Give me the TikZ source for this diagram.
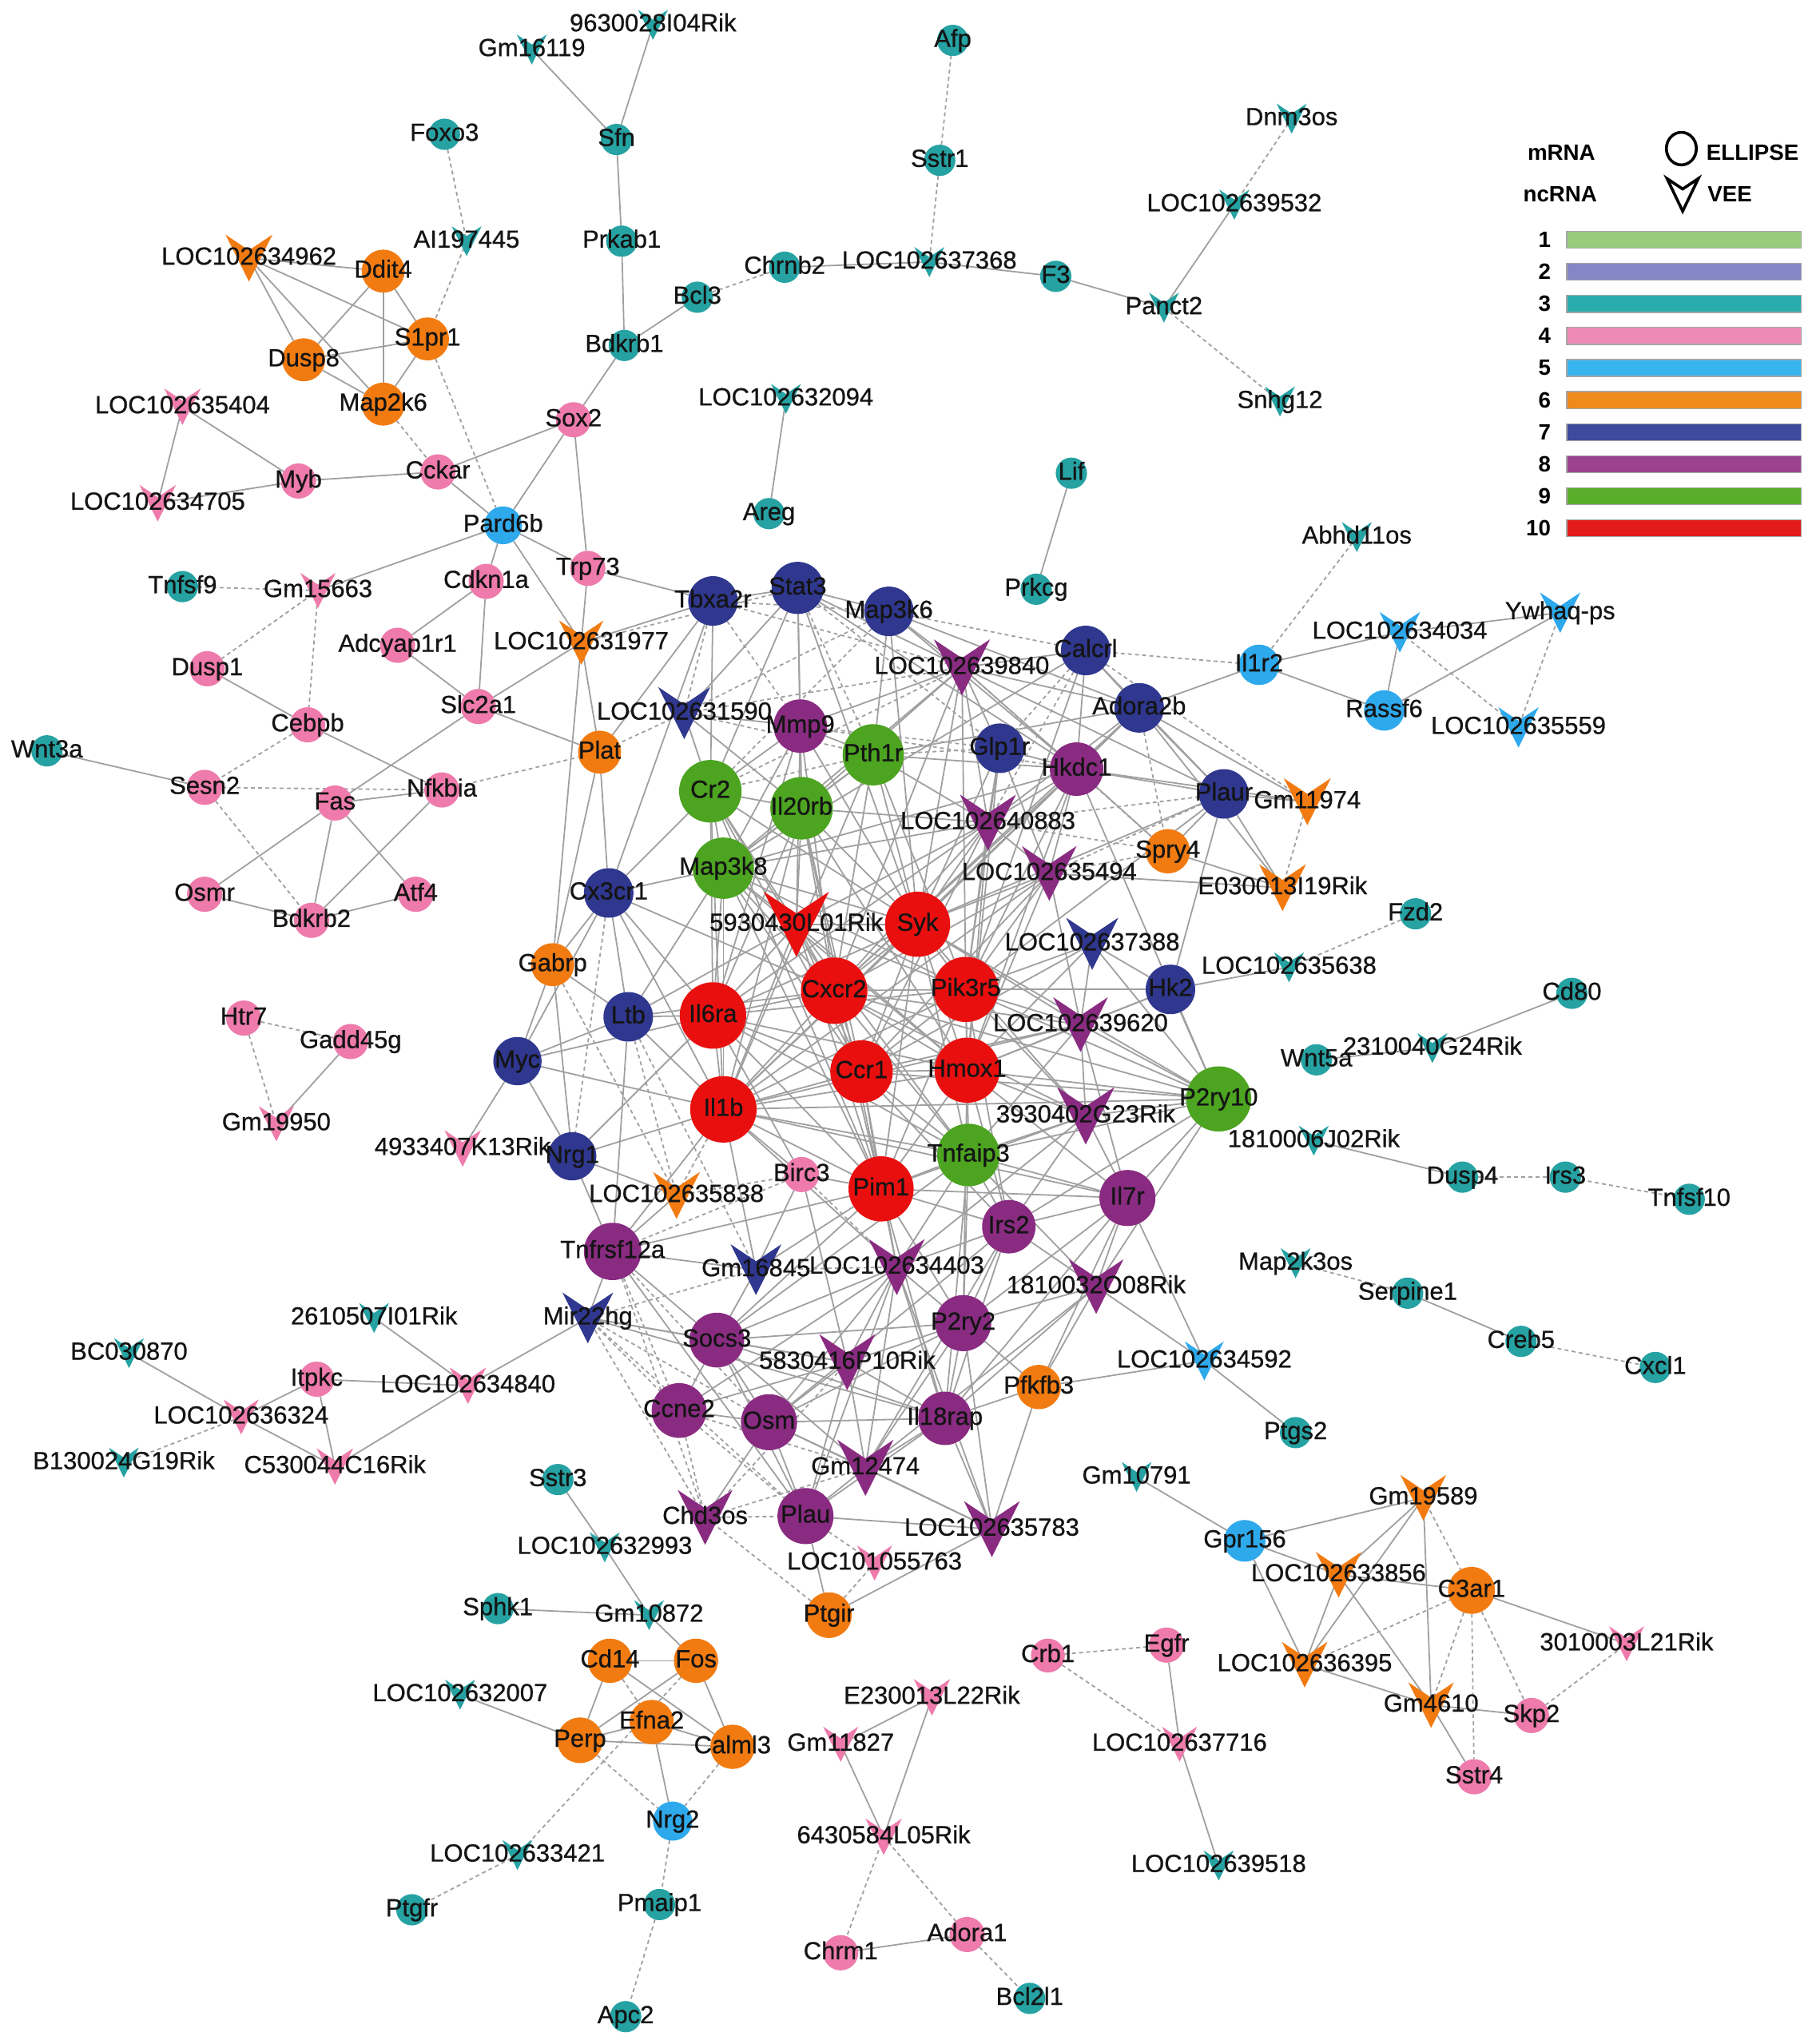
\documentclass[tikz,border=0pt]{standalone}
\usepackage{fontspec}
\setmainfont{Liberation Sans}
\newfontfamily\lblf{Liberation Sans}[FakeBold=0.7]
\pgfdeclarelayer{edges}
\pgfdeclarelayer{labels}
\pgfsetlayers{edges,main,labels}
\definecolor{cT}{HTML}{26A2A3}
\definecolor{cP}{HTML}{EE7BAC}
\definecolor{cS}{HTML}{2EA9EC}
\definecolor{cO}{HTML}{F27B11}
\definecolor{cB}{HTML}{2F378F}
\definecolor{cU}{HTML}{8A2B82}
\definecolor{cG}{HTML}{4CA420}
\definecolor{cR}{HTML}{EA0F0F}
\definecolor{eg}{HTML}{A0A0A0}
\definecolor{L1}{HTML}{97CC7D}
\definecolor{L2}{HTML}{8486C6}
\definecolor{L3}{HTML}{2AABAC}
\definecolor{L4}{HTML}{EE8AB6}
\definecolor{L5}{HTML}{38B5EE}
\definecolor{L6}{HTML}{EF8A1C}
\definecolor{L7}{HTML}{3E4A9C}
\definecolor{L8}{HTML}{9C4390}
\definecolor{L9}{HTML}{58AE2A}
\definecolor{L10}{HTML}{E31B1B}
\tikzset{
  se/.style={draw=eg, line width=1.1pt},
  de/.style={draw=eg, line width=1.1pt, dash pattern=on 3pt off 2.5pt},
  lbl/.style={font=\lblf\fontsize{19}{19}\selectfont, text=black!92, inner sep=0pt, text height=13pt, text depth=3pt},
  cn/.style={circle, inner sep=0pt, outer sep=0pt},
  leg/.style={font=\bfseries\fontsize{17}{17}\selectfont, inner sep=0pt}
}
\newcommand\mkC[6]{\node[cn, fill=#4, minimum size=#5pt] (#1) at (#2,#3) {};
  \begin{pgfonlayer}{labels}\node[lbl] (#1t) at (#2,#3) {#6};\end{pgfonlayer}}
\newcommand\mkV[6]{\coordinate (#1) at (#2,#3);
  \fill[#4, shift={(#2,#3)}] ({-#5/2},{-#5/2}) -- (0,{-#5/6}) -- ({#5/2},{-#5/2}) -- (0,{#5/2}) -- cycle;
  \begin{pgfonlayer}{labels}\node[lbl] (#1t) at (#2,#3) {#6};\end{pgfonlayer}}
\begin{document}
\begin{tikzpicture}[x=1pt,y=-1pt]
\useasboundingbox (0,0) rectangle (1390,1568);
% ---------- teal circles
\mkC{Foxo3}{341}{103}{cT}{24}{Foxo3}
\mkC{Sfn}{473}{107}{cT}{24}{Sfn}
\mkC{Prkab1}{477}{185}{cT}{24}{Prkab1}
\mkC{Bdkrb1}{479}{265}{cT}{24}{Bdkrb1}
\mkC{Bcl3}{535}{228}{cT}{24}{Bcl3}
\mkC{Chrnb2}{602}{205}{cT}{24}{Chrnb2}
\mkC{Afp}{731}{31}{cT}{24}{Afp}
\mkC{Sstr1}{721}{123}{cT}{24}{Sstr1}
\mkC{F3}{810}{212}{cT}{24}{F3}
\mkC{Areg}{590}{394}{cT}{24}{Areg}
\mkC{Lif}{822}{363}{cT}{24}{Lif}
\mkC{Prkcg}{795}{452}{cT}{24}{Prkcg}
\mkC{Tnfsf9}{140}{450}{cT}{24}{Tnfsf9}
\mkC{Wnt3a}{36}{576}{cT}{24}{Wnt3a}
\mkC{Fzd2}{1086}{701}{cT}{24}{Fzd2}
\mkC{Cd80}{1206}{762}{cT}{24}{Cd80}
\mkC{Wnt5a}{1010}{813}{cT}{24}{Wnt5a}
\mkC{Dusp4}{1122}{903}{cT}{24}{Dusp4}
\mkC{Irs3}{1201}{903}{cT}{24}{Irs3}
\mkC{Tnfsf10}{1296}{920}{cT}{24}{Tnfsf10}
\mkC{Serpine1}{1080}{992}{cT}{24}{Serpine1}
\mkC{Creb5}{1167}{1029}{cT}{24}{Creb5}
\mkC{Cxcl1}{1270}{1049}{cT}{24}{Cxcl1}
\mkC{Ptgs2}{994}{1099}{cT}{24}{Ptgs2}
\mkC{Sstr3}{428}{1135}{cT}{24}{Sstr3}
\mkC{Sphk1}{382}{1234}{cT}{24}{Sphk1}
\mkC{Ptgfr}{316}{1465}{cT}{24}{Ptgfr}
\mkC{Pmaip1}{506}{1461}{cT}{24}{Pmaip1}
\mkC{Apc2}{480}{1547}{cT}{24}{Apc2}
\mkC{Bcl2l1}{790}{1533}{cT}{24}{Bcl2l1}
% ---------- teal vees
\mkV{Gm16119}{408}{38}{cT}{23}{Gm16119}
\mkV{9630028I04Rik}{501}{19}{cT}{23}{9630028I04Rik}
\mkV{AI197445}{358}{185}{cT}{23}{AI197445}
\mkV{LOC102637368}{713}{201}{cT}{23}{LOC102637368}
\mkV{Panct2}{893}{236}{cT}{23}{Panct2}
\mkV{LOC102639532}{947}{157}{cT}{23}{LOC102639532}
\mkV{Dnm3os}{991}{91}{cT}{23}{Dnm3os}
\mkV{Snhg12}{982}{308}{cT}{23}{Snhg12}
\mkV{LOC102632094}{603}{306}{cT}{23}{LOC102632094}
\mkV{Abhd11os}{1041}{412}{cT}{23}{Abhd11os}
\mkV{LOC102635638}{989}{742}{cT}{23}{LOC102635638}
\mkV{2310040G24Rik}{1099}{804}{cT}{23}{2310040G24Rik}
\mkV{1810006J02Rik}{1008}{875}{cT}{23}{1810006J02Rik}
\mkV{Map2k3os}{994}{969}{cT}{23}{Map2k3os}
\mkV{Gm10791}{872}{1133}{cT}{23}{Gm10791}
\mkV{LOC102639518}{935}{1431}{cT}{23}{LOC102639518}
\mkV{2610507I01Rik}{287}{1011}{cT}{23}{2610507I01Rik}
\mkV{BC030870}{99}{1038}{cT}{23}{BC030870}
\mkV{B130024G19Rik}{95}{1122}{cT}{23}{B130024G19Rik}
\mkV{LOC102632993}{464}{1187}{cT}{23}{LOC102632993}
\mkV{Gm10872}{498}{1239}{cT}{23}{Gm10872}
\mkV{LOC102632007}{353}{1300}{cT}{23}{LOC102632007}
\mkV{LOC102633421}{397}{1423}{cT}{23}{LOC102633421}
% ---------- pink circles
\mkC{Myb}{229}{369}{cP}{27}{Myb}
\mkC{Cckar}{336}{362}{cP}{27}{Cckar}
\mkC{Sox2}{440}{322}{cP}{27}{Sox2}
\mkC{Cdkn1a}{373}{446}{cP}{27}{Cdkn1a}
\mkC{Trp73}{451}{436}{cP}{27}{Trp73}
\mkC{Adcyap1r1}{305}{495}{cP}{27}{Adcyap1r1}
\mkC{Dusp1}{159}{513}{cP}{27}{Dusp1}
\mkC{Cebpb}{236}{556}{cP}{27}{Cebpb}
\mkC{Slc2a1}{367}{542}{cP}{27}{Slc2a1}
\mkC{Sesn2}{157}{604}{cP}{27}{Sesn2}
\mkC{Fas}{257}{616}{cP}{27}{Fas}
\mkC{Nfkbia}{339}{606}{cP}{27}{Nfkbia}
\mkC{Osmr}{157}{686}{cP}{27}{Osmr}
\mkC{Bdkrb2}{239}{706}{cP}{27}{Bdkrb2}
\mkC{Atf4}{319}{686}{cP}{27}{Atf4}
\mkC{Htr7}{187}{781}{cP}{27}{Htr7}
\mkC{Gadd45g}{269}{799}{cP}{27}{Gadd45g}
\mkC{Birc3}{615}{901}{cP}{27}{Birc3}
\mkC{Itpkc}{243}{1058}{cP}{27}{Itpkc}
\mkC{Crb1}{804}{1270}{cP}{26}{Crb1}
\mkC{Egfr}{895}{1262}{cP}{27}{Egfr}
\mkC{Skp2}{1175}{1316}{cP}{27}{Skp2}
\mkC{Sstr4}{1131}{1363}{cP}{27}{Sstr4}
\mkC{Chrm1}{645}{1498}{cP}{27}{Chrm1}
\mkC{Adora1}{742}{1484}{cP}{27}{Adora1}
% ---------- pink vees
\mkV{LOC102635404}{140}{312}{cP}{28}{LOC102635404}
\mkV{LOC102634705}{121}{386}{cP}{28}{LOC102634705}
\mkV{Gm15663}{244}{453}{cP}{27}{Gm15663}
\mkV{Gm19950}{212}{862}{cP}{27}{Gm19950}
\mkV{4933407K13Rik}{355}{881}{cP}{28}{4933407K13Rik}
\mkV{LOC102634840}{359}{1063}{cP}{28}{LOC102634840}
\mkV{LOC102636324}{185}{1087}{cP}{27}{LOC102636324}
\mkV{C530044C16Rik}{257}{1125}{cP}{28}{C530044C16Rik}
\mkV{LOC101055763}{671}{1199}{cP}{27}{LOC101055763}
\mkV{E230013L22Rik}{715}{1302}{cP}{28}{E230013L22Rik}
\mkV{Gm11827}{645}{1338}{cP}{27}{Gm11827}
\mkV{6430584L05Rik}{678}{1409}{cP}{28}{6430584L05Rik}
\mkV{LOC102637716}{905}{1338}{cP}{27}{LOC102637716}
\mkV{3010003L21Rik}{1248}{1261}{cP}{27}{3010003L21Rik}
% ---------- sky
\mkC{Pard6b}{386}{403}{cS}{29}{Pard6b}
\mkC{Il1r2}{966}{510}{cS}{31}{Il1r2}
\mkC{Rassf6}{1062}{545}{cS}{31}{Rassf6}
\mkC{Gpr156}{955}{1182}{cS}{32}{Gpr156}
\mkC{Nrg2}{516}{1397}{cS}{30}{Nrg2}
\mkV{LOC102634034}{1074}{485}{cS}{31}{LOC102634034}
\mkV{Ywhaqps}{1197}{470}{cS}{31}{Ywhaq-ps}
\mkV{LOC102635559}{1165}{558}{cS}{31}{LOC102635559}
\mkV{LOC102634592}{924}{1044}{cS}{30}{LOC102634592}
% ---------- orange
\mkC{Ddit4}{294}{208}{cO}{33}{Ddit4}
\mkC{S1pr1}{328}{260}{cO}{33}{S1pr1}
\mkC{Dusp8}{233}{276}{cO}{33}{Dusp8}
\mkC{Map2k6}{294}{310}{cO}{33}{Map2k6}
\mkC{Plat}{460}{577}{cO}{33}{Plat}
\mkC{Gabrp}{424}{740}{cO}{33}{Gabrp}
\mkC{Spry4}{896}{653}{cO}{34}{Spry4}
\mkC{Pfkfb3}{797}{1064}{cO}{34}{Pfkfb3}
\mkC{Ptgir}{636}{1239}{cO}{35}{Ptgir}
\mkC{C3ar1}{1129}{1220}{cO}{36}{C3ar1}
\mkC{Cd14}{468}{1274}{cO}{34}{Cd14}
\mkC{Fos}{534}{1274}{cO}{34}{Fos}
\mkC{Perp}{445}{1335}{cO}{35}{Perp}
\mkC{Efna2}{500}{1321}{cO}{34}{Efna2}
\mkC{Calml3}{562}{1340}{cO}{34}{Calml3}
\mkV{LOC102634962}{191}{198}{cO}{36}{LOC102634962}
\mkV{LOC102631977}{446}{493}{cO}{34}{LOC102631977}
\mkV{Gm11974}{1003}{615}{cO}{36}{Gm11974}
\mkV{E030013I19Rik}{984}{681}{cO}{36}{E030013I19Rik}
\mkV{LOC102635838}{519}{917}{cO}{36}{LOC102635838}
\mkV{Gm19589}{1092}{1149}{cO}{35}{Gm19589}
\mkV{LOC102633856}{1027}{1208}{cO}{35}{LOC102633856}
\mkV{LOC102636395}{1001}{1277}{cO}{35}{LOC102636395}
\mkV{Gm4610}{1098}{1308}{cO}{35}{Gm4610}
% ---------- dark blue
\mkC{Tbxa2r}{547}{461}{cB}{38}{Tbxa2r}
\mkC{Stat3}{612}{451}{cB}{40}{Stat3}
\mkC{Map3k6}{682}{469}{cB}{38}{Map3k6}
\mkC{Calcrl}{833}{499}{cB}{38}{Calcrl}
\mkC{Adora2b}{874}{543}{cB}{38}{Adora2b}
\mkC{Glp1r}{767}{574}{cB}{38}{Glp1r}
\mkC{Plaur}{939}{609}{cB}{38}{Plaur}
\mkC{Cx3cr1}{467}{685}{cB}{38}{Cx3cr1}
\mkC{Hk2}{898}{759}{cB}{38}{Hk2}
\mkC{Ltb}{482}{780}{cB}{38}{Ltb}
\mkC{Myc}{397}{814}{cB}{37}{Myc}
\mkC{Nrg1}{439}{887}{cB}{37}{Nrg1}
\mkV{LOC102631590}{525}{547}{cB}{40}{LOC102631590}
\mkV{LOC102637388}{838}{724}{cB}{40}{LOC102637388}
\mkV{Gm16845}{580}{974}{cB}{39}{Gm16845}
\mkV{Mir22hg}{451}{1011}{cB}{39}{Mir22hg}
% ---------- purple
\mkC{Mmp9}{614}{557}{cU}{41}{Mmp9}
\mkC{Hkdc1}{826}{590}{cU}{41}{Hkdc1}
\mkC{Il7r}{865}{919}{cU}{43}{Il7r}
\mkC{Irs2}{774}{941}{cU}{41}{Irs2}
\mkC{Tnfrsf12a}{470}{960}{cU}{44}{Tnfrsf12a}
\mkC{Socs3}{550}{1028}{cU}{42}{Socs3}
\mkC{P2ry2}{739}{1015}{cU}{43}{P2ry2}
\mkC{Ccne2}{521}{1082}{cU}{42}{Ccne2}
\mkC{Osm}{590}{1091}{cU}{43}{Osm}
\mkC{Il18rap}{725}{1088}{cU}{41}{Il18rap}
\mkC{Plau}{618}{1163}{cU}{43}{Plau}
\mkV{LOC102639840}{738}{512}{cU}{43}{LOC102639840}
\mkV{LOC102640883}{758}{631}{cU}{43}{LOC102640883}
\mkV{LOC102635494}{805}{670}{cU}{42}{LOC102635494}
\mkV{LOC102639620}{829}{786}{cU}{42}{LOC102639620}
\mkV{3930402G23Rik}{833}{856}{cU}{44}{3930402G23Rik}
\mkV{LOC102634403}{688}{972}{cU}{43}{LOC102634403}
\mkV{1810032O08Rik}{841}{987}{cU}{42}{1810032O08Rik}
\mkV{5830416P10Rik}{650}{1045}{cU}{43}{5830416P10Rik}
\mkV{Gm12474}{664}{1126}{cU}{43}{Gm12474}
\mkV{Chd3os}{541}{1164}{cU}{42}{Chd3os}
\mkV{LOC102635783}{761}{1173}{cU}{43}{LOC102635783}
% ---------- green
\mkC{Pth1r}{670}{579}{cG}{47}{Pth1r}
\mkC{Cr2}{545}{607}{cG}{48}{Cr2}
\mkC{Il20rb}{615}{620}{cG}{48}{Il20rb}
\mkC{Map3k8}{555}{666}{cG}{47}{Map3k8}
\mkC{Tnfaip3}{743}{886}{cG}{48}{Tnfaip3}
\mkC{P2ry10}{935}{843}{cG}{50}{P2ry10}
% ---------- red
\mkC{Syk}{704}{709}{cR}{50}{Syk}
\mkC{Il6ra}{547}{779}{cR}{51}{Il6ra}
\mkC{Cxcr2}{640}{760}{cR}{51}{Cxcr2}
\mkC{Pik3r5}{741}{759}{cR}{50}{Pik3r5}
\mkC{Ccr1}{661}{822}{cR}{48}{Ccr1}
\mkC{Hmox1}{742}{821}{cR}{50}{Hmox1}
\mkC{Il1b}{555}{851}{cR}{51}{Il1b}
\mkC{Pim1}{676}{912}{cR}{50}{Pim1}
\mkV{5930430L01Rik}{611}{709}{cR}{50}{5930430L01Rik}
% ---------- edges
\begin{pgfonlayer}{edges}
\fill[white] (0,0) rectangle (1390,1568);
\foreach \a/\b in {Gm16119/Sfn, 9630028I04Rik/Sfn, Sfn/Prkab1, Prkab1/Bdkrb1, Bdkrb1/Bcl3, Bdkrb1/Sox2,
 Chrnb2/LOC102637368, LOC102637368/F3, F3/Panct2, Panct2/LOC102639532, LOC102632094/Areg, Lif/Prkcg,
 LOC102634962/Ddit4, LOC102634962/Dusp8, LOC102634962/S1pr1, LOC102634962/Map2k6, Ddit4/S1pr1, Ddit4/Dusp8,
 Ddit4/Map2k6, Dusp8/S1pr1, Dusp8/Map2k6, S1pr1/Map2k6,
 LOC102635404/LOC102634705, LOC102635404/Myb, Myb/LOC102634705, Myb/Cckar, Cckar/Sox2, Cckar/Pard6b,
 Sox2/Pard6b, Sox2/Trp73, Pard6b/Gm15663, Pard6b/Cdkn1a, Pard6b/Trp73, Pard6b/LOC102631977,
 Cdkn1a/Adcyap1r1, Cdkn1a/Slc2a1, Adcyap1r1/Slc2a1, Slc2a1/LOC102631977, Slc2a1/Plat, Slc2a1/Fas,
 Dusp1/Cebpb, Cebpb/Nfkbia, Wnt3a/Sesn2, Fas/Nfkbia, Fas/Osmr, Fas/Bdkrb2, Fas/Atf4, Nfkbia/Bdkrb2,
 Osmr/Bdkrb2, Bdkrb2/Atf4, Trp73/LOC102631977, Trp73/Tbxa2r, LOC102631977/Gabrp, LOC102631977/Plat,
 LOC102631977/Tbxa2r, Gadd45g/Gm19950, Myc/4933407K13Rik,
 Il1r2/LOC102634034, Il1r2/Rassf6, LOC102634034/Ywhaqps, LOC102634034/Rassf6, Ywhaqps/Rassf6,
 Il1r2/Adora2b, Adora2b/Gm11974, LOC102635638/Hk2, Cd80/2310040G24Rik, Wnt5a/2310040G24Rik,
 1810006J02Rik/Dusp4, Serpine1/Creb5, LOC102634592/Ptgs2, Pfkfb3/LOC102634592, Il7r/LOC102634592,
 1810032O08Rik/LOC102634592,
 Gm10791/Gpr156, Gpr156/Gm19589, Gpr156/LOC102633856, Gpr156/LOC102636395, Gm19589/LOC102633856,
 Gm19589/LOC102636395, Gm19589/Gm4610, LOC102633856/LOC102636395, LOC102633856/Gm4610,
 LOC102633856/C3ar1, LOC102636395/Gm4610, C3ar1/3010003L21Rik, Gm4610/Skp2, Gm4610/Sstr4,
 Egfr/LOC102637716, LOC102637716/LOC102639518,
 2610507I01Rik/LOC102634840, Mir22hg/LOC102634840, Itpkc/LOC102634840, Itpkc/LOC102636324,
 Itpkc/C530044C16Rik, BC030870/LOC102636324, LOC102636324/C530044C16Rik, LOC102634840/C530044C16Rik,
 Sstr3/LOC102632993, LOC102632993/Gm10872, Sphk1/Gm10872, Gm10872/Fos, Cd14/Fos, Cd14/Perp,
 Cd14/Calml3, Fos/Perp, Fos/Calml3, Perp/Efna2, Perp/Calml3, Efna2/Calml3, Efna2/Nrg2, LOC102632007/Perp,
 E230013L22Rik/Gm11827, E230013L22Rik/6430584L05Rik, Gm11827/6430584L05Rik, Chrm1/Adora1,
 Ptgir/Plau, Ptgir/LOC102635783, Plau/LOC102635783}
 \draw[se] (\a) -- (\b);
% center solid
\foreach \a/\b in {Tbxa2r/Stat3, Tbxa2r/Cx3cr1, Tbxa2r/Cr2, Tbxa2r/Plat,
 Stat3/Map3k6, Stat3/Mmp9, Stat3/LOC102631590, Stat3/Cr2, Stat3/Syk, Stat3/Hkdc1, Stat3/Il20rb, Stat3/LOC102639840,
 Map3k6/LOC102639840, Map3k6/Hkdc1, Map3k6/Pth1r, Map3k6/Syk, Map3k6/Adora2b,
 LOC102639840/Calcrl, LOC102639840/Adora2b, LOC102639840/Glp1r, LOC102639840/Hkdc1, LOC102639840/LOC102640883,
 LOC102639840/Mmp9, LOC102639840/Il20rb, LOC102639840/Syk, LOC102639840/Pik3r5, LOC102639840/Plaur,
 LOC102639840/Map3k8, LOC102639840/Cxcr2,
 Calcrl/Adora2b, Calcrl/Hkdc1, Calcrl/Plaur, Calcrl/Map3k8, Calcrl/Pik3r5,
 Adora2b/Hkdc1, Adora2b/Plaur, Adora2b/LOC102640883, Adora2b/Pth1r, Adora2b/Cxcr2, Adora2b/E030013I19Rik, Adora2b/Syk,
 LOC102631590/Mmp9, LOC102631590/Cr2, LOC102631590/Il20rb,
 Mmp9/Pth1r, Mmp9/Cr2, Mmp9/Il20rb, Mmp9/Map3k8, Mmp9/5930430L01Rik, Mmp9/Syk, Mmp9/Cxcr2, Mmp9/Il6ra,
 Pth1r/Il20rb, Pth1r/Hkdc1, Pth1r/Syk, Pth1r/Cxcr2, Pth1r/LOC102640883, Pth1r/Map3k8, Pth1r/Il1b, Pth1r/Pik3r5,
 Glp1r/Hkdc1, Glp1r/LOC102640883, Glp1r/LOC102635494, Glp1r/Pik3r5, Glp1r/Syk, Glp1r/Hmox1,
 Hkdc1/Plaur, Hkdc1/LOC102640883, Hkdc1/LOC102635494, Hkdc1/Spry4, Hkdc1/Syk, Hkdc1/Pik3r5, Hkdc1/Cxcr2,
 Hkdc1/Map3k8, Hkdc1/Il1b, Hkdc1/Hmox1, Hkdc1/P2ry10, Hkdc1/Gm11974,
 Plaur/Gm11974, Plaur/E030013I19Rik, Plaur/Spry4, Plaur/Hk2, Plaur/Syk, Plaur/Pik3r5,
 Cr2/Il20rb, Cr2/Map3k8, Cr2/Cx3cr1, Cr2/5930430L01Rik, Cr2/Il6ra, Cr2/Cxcr2, Cr2/Syk, Cr2/Il1b, Cr2/Ccr1, Cr2/Pim1,
 Il20rb/Map3k8, Il20rb/5930430L01Rik, Il20rb/Syk, Il20rb/Cxcr2, Il20rb/Il6ra, Il20rb/Ccr1, Il20rb/Pim1,
 Il20rb/Hmox1, Il20rb/Il1b, Il20rb/LOC102640883,
 LOC102640883/Syk, LOC102640883/Pik3r5, LOC102640883/LOC102635494, LOC102640883/Map3k8, LOC102640883/Cxcr2,
 LOC102640883/Il6ra, LOC102640883/Ccr1, LOC102640883/Hmox1, LOC102640883/5930430L01Rik,
 LOC102635494/Syk, LOC102635494/Pik3r5, LOC102635494/LOC102639620, LOC102635494/Hmox1, LOC102635494/Ccr1,
 LOC102635494/Cxcr2, LOC102635494/Il1b, LOC102635494/E030013I19Rik, Spry4/E030013I19Rik,
 Map3k8/Cx3cr1, Map3k8/5930430L01Rik, Map3k8/Il6ra, Map3k8/Cxcr2, Map3k8/Syk, Map3k8/Ccr1, Map3k8/Il1b,
 Map3k8/Pim1, Map3k8/Ltb, Map3k8/Hmox1, Map3k8/Pik3r5,
 Cx3cr1/Ltb, Cx3cr1/Il6ra, Cx3cr1/Myc, Cx3cr1/Gabrp, Cx3cr1/Il1b, Cx3cr1/Cxcr2, Cx3cr1/Plat,
 5930430L01Rik/Syk, 5930430L01Rik/Cxcr2, 5930430L01Rik/Pik3r5, 5930430L01Rik/Il6ra, 5930430L01Rik/Ccr1,
 5930430L01Rik/Hmox1, 5930430L01Rik/Il1b, 5930430L01Rik/Pim1, 5930430L01Rik/Ltb, 5930430L01Rik/Tnfaip3,
 Syk/Cxcr2, Syk/Pik3r5, Syk/Il6ra, Syk/Ccr1, Syk/Hmox1, Syk/Il1b, Syk/Pim1, Syk/LOC102639620, Syk/Tnfaip3,
 Syk/P2ry10, Syk/3930402G23Rik,
 LOC102637388/Pik3r5, LOC102637388/Hk2, LOC102637388/LOC102639620, LOC102637388/Ccr1, LOC102637388/Hmox1,
 LOC102637388/P2ry10, Hk2/LOC102639620, Hk2/Pik3r5, Hk2/P2ry10, Hk2/Hmox1,
 Ltb/Il6ra, Ltb/Myc, Ltb/Il1b, Ltb/Gabrp, Ltb/Tnfrsf12a, Ltb/Cxcr2,
 Il6ra/Cxcr2, Il6ra/Pik3r5, Il6ra/Ccr1, Il6ra/Hmox1, Il6ra/Il1b, Il6ra/Pim1, Il6ra/Myc, Il6ra/Nrg1,
 Il6ra/Tnfaip3, Il6ra/Birc3,
 Cxcr2/Pik3r5, Cxcr2/Ccr1, Cxcr2/Hmox1, Cxcr2/Il1b, Cxcr2/Pim1, Cxcr2/Tnfaip3, Cxcr2/P2ry10,
 Cxcr2/LOC102639620, Cxcr2/3930402G23Rik,
 Pik3r5/Ccr1, Pik3r5/Hmox1, Pik3r5/Il1b, Pik3r5/Pim1, Pik3r5/LOC102639620, Pik3r5/P2ry10, Pik3r5/Tnfaip3,
 Pik3r5/3930402G23Rik, Pik3r5/Irs2,
 LOC102639620/Hmox1, LOC102639620/P2ry10, LOC102639620/3930402G23Rik, LOC102639620/Tnfaip3,
 LOC102639620/Il7r, LOC102639620/Ccr1, LOC102639620/Il1b,
 Ccr1/Hmox1, Ccr1/Il1b, Ccr1/Pim1, Ccr1/Tnfaip3, Ccr1/P2ry10, Ccr1/Irs2, Ccr1/LOC102634403,
 Hmox1/Il1b, Hmox1/Pim1, Hmox1/Tnfaip3, Hmox1/P2ry10, Hmox1/3930402G23Rik, Hmox1/Il7r, Hmox1/Irs2, Hmox1/P2ry2,
 Il1b/Pim1, Il1b/Myc, Il1b/Nrg1, Il1b/Tnfrsf12a, Il1b/Birc3, Il1b/Gm16845, Il1b/LOC102634403, Il1b/Tnfaip3,
 Il1b/P2ry10, Il1b/Il7r,
 P2ry10/3930402G23Rik, P2ry10/Tnfaip3, P2ry10/Il7r, P2ry10/Irs2, P2ry10/1810032O08Rik,
 3930402G23Rik/Tnfaip3, 3930402G23Rik/Il7r, 3930402G23Rik/Pim1, 3930402G23Rik/Irs2, 3930402G23Rik/LOC102634403,
 Tnfaip3/Pim1, Tnfaip3/Irs2, Tnfaip3/Il7r, Tnfaip3/P2ry2, Tnfaip3/LOC102634403, Tnfaip3/1810032O08Rik,
 Tnfaip3/Il18rap, Tnfaip3/Socs3,
 Birc3/Pim1, Birc3/Gm16845, Birc3/5830416P10Rik,
 Pim1/Irs2, Pim1/LOC102634403, Pim1/Socs3, Pim1/P2ry2, Pim1/Il7r, Pim1/Gm16845, Pim1/Tnfrsf12a, Pim1/Il18rap,
 Il7r/Irs2, Il7r/1810032O08Rik, Il7r/P2ry2, Il7r/Pfkfb3, Il7r/Il18rap,
 Irs2/P2ry2, Irs2/1810032O08Rik, Irs2/LOC102634403, Irs2/Il18rap, Irs2/Osm, Irs2/Gm12474,
 Tnfrsf12a/Mir22hg, Tnfrsf12a/Gm16845, Tnfrsf12a/Socs3, Tnfrsf12a/Nrg1, Tnfrsf12a/LOC102635838, Tnfrsf12a/Plau,
 Gm16845/Socs3,
 LOC102634403/Socs3, LOC102634403/P2ry2, LOC102634403/5830416P10Rik, LOC102634403/Osm, LOC102634403/Il18rap,
 LOC102634403/Gm12474, LOC102634403/Ccne2, LOC102634403/Plau, LOC102634403/LOC102635783,
 1810032O08Rik/P2ry2, 1810032O08Rik/Pfkfb3, 1810032O08Rik/Il18rap, 1810032O08Rik/Gm12474,
 Mir22hg/Socs3, Mir22hg/5830416P10Rik, Mir22hg/Il18rap,
 Socs3/5830416P10Rik, Socs3/Osm, Socs3/Ccne2, Socs3/Il18rap, Socs3/Gm12474, Socs3/P2ry2, Socs3/Plau,
 P2ry2/5830416P10Rik, P2ry2/Pfkfb3, P2ry2/Il18rap, P2ry2/Osm, P2ry2/Gm12474, P2ry2/LOC102635783,
 5830416P10Rik/Osm, 5830416P10Rik/Il18rap, 5830416P10Rik/Gm12474, 5830416P10Rik/Ccne2, 5830416P10Rik/Plau,
 Pfkfb3/Il18rap, Pfkfb3/LOC102635783, Ccne2/Osm,
 Osm/Il18rap, Osm/Gm12474, Osm/Plau, Osm/Chd3os, Osm/LOC102635783,
 Il18rap/Gm12474, Il18rap/LOC102635783, Il18rap/Plau, Gm12474/Plau, Gm12474/LOC102635783,
 Nrg1/Myc, Gabrp/Plat, Gabrp/Myc, Gabrp/Nrg1, LOC102635838/Nrg1}
 \draw[se] (\a) -- (\b);
% dashed
\foreach \a/\b in {Bcl3/Chrnb2, Sstr1/Afp, Sstr1/LOC102637368, LOC102639532/Dnm3os, Panct2/Snhg12,
 Foxo3/AI197445, AI197445/S1pr1, S1pr1/Pard6b, Map2k6/Cckar, Tnfsf9/Gm15663, Gm15663/Dusp1, Gm15663/Cebpb,
 Cebpb/Sesn2, Sesn2/Nfkbia, Sesn2/Bdkrb2, Nfkbia/Plat, Htr7/Gadd45g, Htr7/Gm19950, Abhd11os/Il1r2,
 LOC102634034/LOC102635559, Ywhaqps/LOC102635559, Il1r2/Calcrl, Calcrl/Gm11974, Fzd2/LOC102635638,
 Dusp4/Irs3, Irs3/Tnfsf10, Map2k3os/Serpine1, Creb5/Cxcl1, Gm19589/C3ar1, LOC102636395/C3ar1,
 C3ar1/Gm4610, C3ar1/Sstr4, C3ar1/Skp2, Skp2/3010003L21Rik, Crb1/Egfr, Crb1/LOC102637716,
 LOC102636324/B130024G19Rik, Fos/LOC102633421, LOC102633421/Ptgfr, Perp/Nrg2, Calml3/Nrg2, Cd14/Efna2,
 Nrg2/Pmaip1, Pmaip1/Apc2, 6430584L05Rik/Chrm1, 6430584L05Rik/Adora1, Adora1/Bcl2l1, Ptgir/LOC101055763,
 Ptgir/Chd3os, Plau/LOC101055763, Chd3os/Plau, Gm11974/E030013I19Rik,
 Tbxa2r/LOC102631590, Tbxa2r/Mmp9, Tbxa2r/Map3k6, Tbxa2r/LOC102639840,
 Stat3/LOC102631977, Stat3/Pth1r, Stat3/Glp1r, Map3k6/LOC102631590, Map3k6/Cr2, Map3k6/Calcrl,
 LOC102639840/Cr2, LOC102639840/LOC102631590, LOC102639840/Spry4, Calcrl/Glp1r, Calcrl/LOC102640883,
 Adora2b/Spry4, LOC102631590/Plat, LOC102631590/Pth1r, Mmp9/Hkdc1, Mmp9/Glp1r, Pth1r/Cr2, Pth1r/Glp1r,
 Plaur/LOC102640883, Plaur/LOC102635494, LOC102640883/Spry4, LOC102635494/Spry4, Cx3cr1/Nrg1,
 Ltb/LOC102635838, Ltb/Gm16845, Il1b/LOC102635838, Birc3/LOC102634403, Birc3/Tnfrsf12a,
 Tnfrsf12a/Ccne2, Tnfrsf12a/Osm, Tnfrsf12a/Chd3os, Gm16845/LOC102634403, Gm16845/Mir22hg,
 Mir22hg/Ccne2, Mir22hg/Osm, Mir22hg/Chd3os, Mir22hg/Plau, 5830416P10Rik/Chd3os,
 Ccne2/Chd3os, Ccne2/Plau, Ccne2/Gm12474, Gm12474/Chd3os, Gabrp/LOC102635838, LOC102635838/Birc3}
 \draw[de] (\a) -- (\b);
\end{pgfonlayer}
% ---------- legend
\node[leg] (lgm) at (1198,117) {mRNA};
\draw[line width=2.2pt] (1290,114) ellipse [x radius=11.5pt, y radius=12.5pt];
\node[leg, anchor=west] (lge) at (1309,117) {ELLIPSE};
\node[leg] (lgn) at (1197,149) {ncRNA};
\draw[line width=2.2pt, line join=miter, shift={(1291,149)}] (-12,-12) -- (0,-4) -- (12,-12) -- (0,13) -- cycle;
\node[leg, anchor=west] (lgv) at (1310,149) {VEE};
\foreach \i/\c/\yy in {1/L1/183.9, 2/L2/208.5, 3/L3/233.1, 4/L4/257.7, 5/L5/282.3, 6/L6/306.9, 7/L7/331.5, 8/L8/356.1, 9/L9/380.7, 10/L10/405.3}{
  \node[leg, anchor=east] (num\i) at (1190,\yy) {\i};
  \draw[fill=\c, draw=black!35, line width=0.8pt] (1202,{\yy-6.5}) rectangle (1382,{\yy+6.5});
}
\end{tikzpicture}
\end{document}
